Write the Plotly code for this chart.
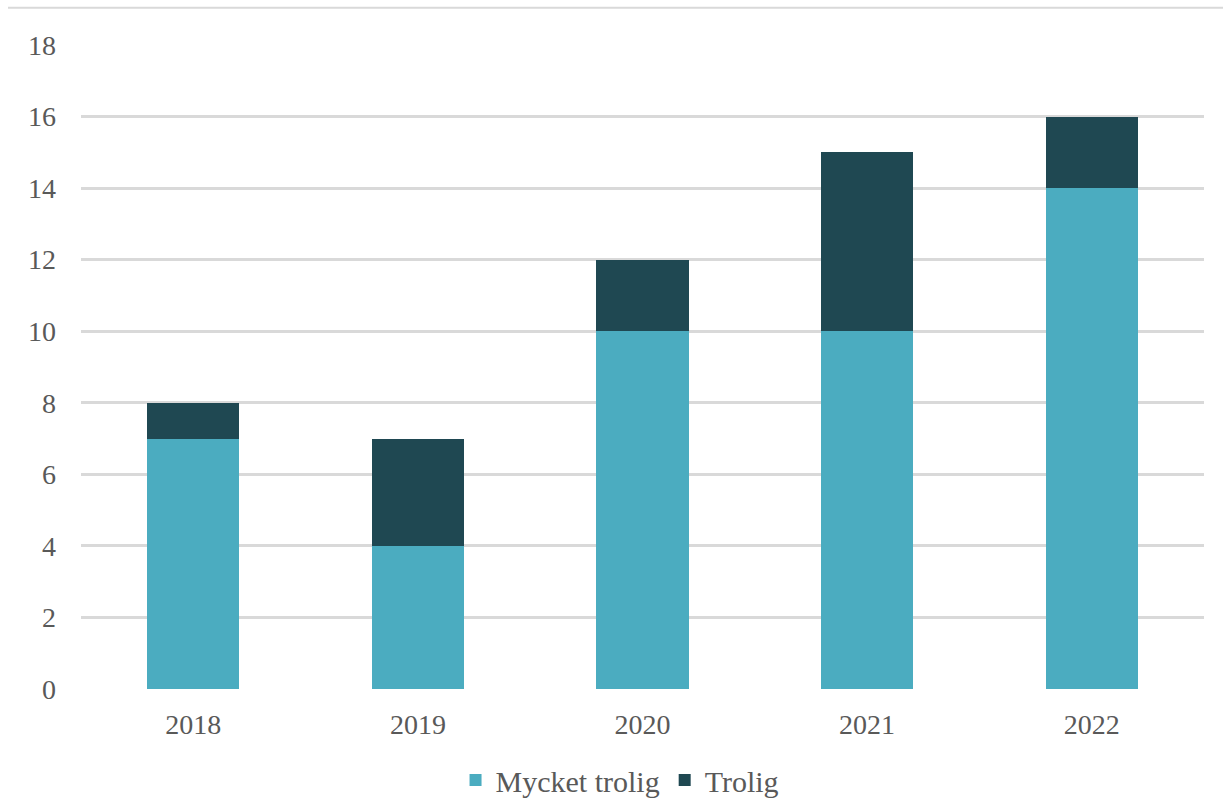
import plotly.graph_objects as go

years = ["2018", "2019", "2020", "2021", "2022"]
mycket_trolig = [7, 4, 10, 10, 14]
trolig = [1, 3, 2, 5, 2]
y_ticks = [0, 2, 4, 6, 8, 10, 12, 14, 16, 18]

font_family = "Liberation Serif, Times New Roman, serif"
text_color = "#595959"

fig = go.Figure()
fig.add_trace(go.Bar(x=years, y=mycket_trolig, name="Mycket trolig",
                     marker=dict(color="#4BACC0", line=dict(width=0))))
fig.add_trace(go.Bar(x=years, y=trolig, name="Trolig",
                     marker=dict(color="#1F4852", line=dict(width=0))))

fig.update_layout(
    barmode="stack",
    bargap=0.59,
    width=1223, height=806,
    margin=dict(l=81, r=19, t=45, b=117, autoexpand=False),
    plot_bgcolor="white", paper_bgcolor="white",
    font=dict(family=font_family, size=28, color=text_color),
    showlegend=True,
    legend=dict(orientation="h", x=0.48, xanchor="center",
                yref="container", y=0.0, yanchor="bottom",
                font=dict(size=30, color=text_color), traceorder="normal",
                itemsizing="constant"),
    xaxis=dict(showgrid=False, showline=False, zeroline=False, ticks="",
               ticklabelstandoff=16, tickfont=dict(size=28)),
    yaxis=dict(range=[0, 18], tickvals=y_ticks, showgrid=True, gridcolor="#D9D9D9",
               gridwidth=3, zeroline=False, showline=False, ticks="",
               ticklabelstandoff=24, tickfont=dict(size=28)),
)

# thin frame line across the top of the figure
fig.add_shape(type="line", xref="paper", yref="paper", x0=-0.065, x1=1.02,
              y0=1.058, y1=1.058, line=dict(color="#D9D9D9", width=2))

fig.write_html("out.html")
